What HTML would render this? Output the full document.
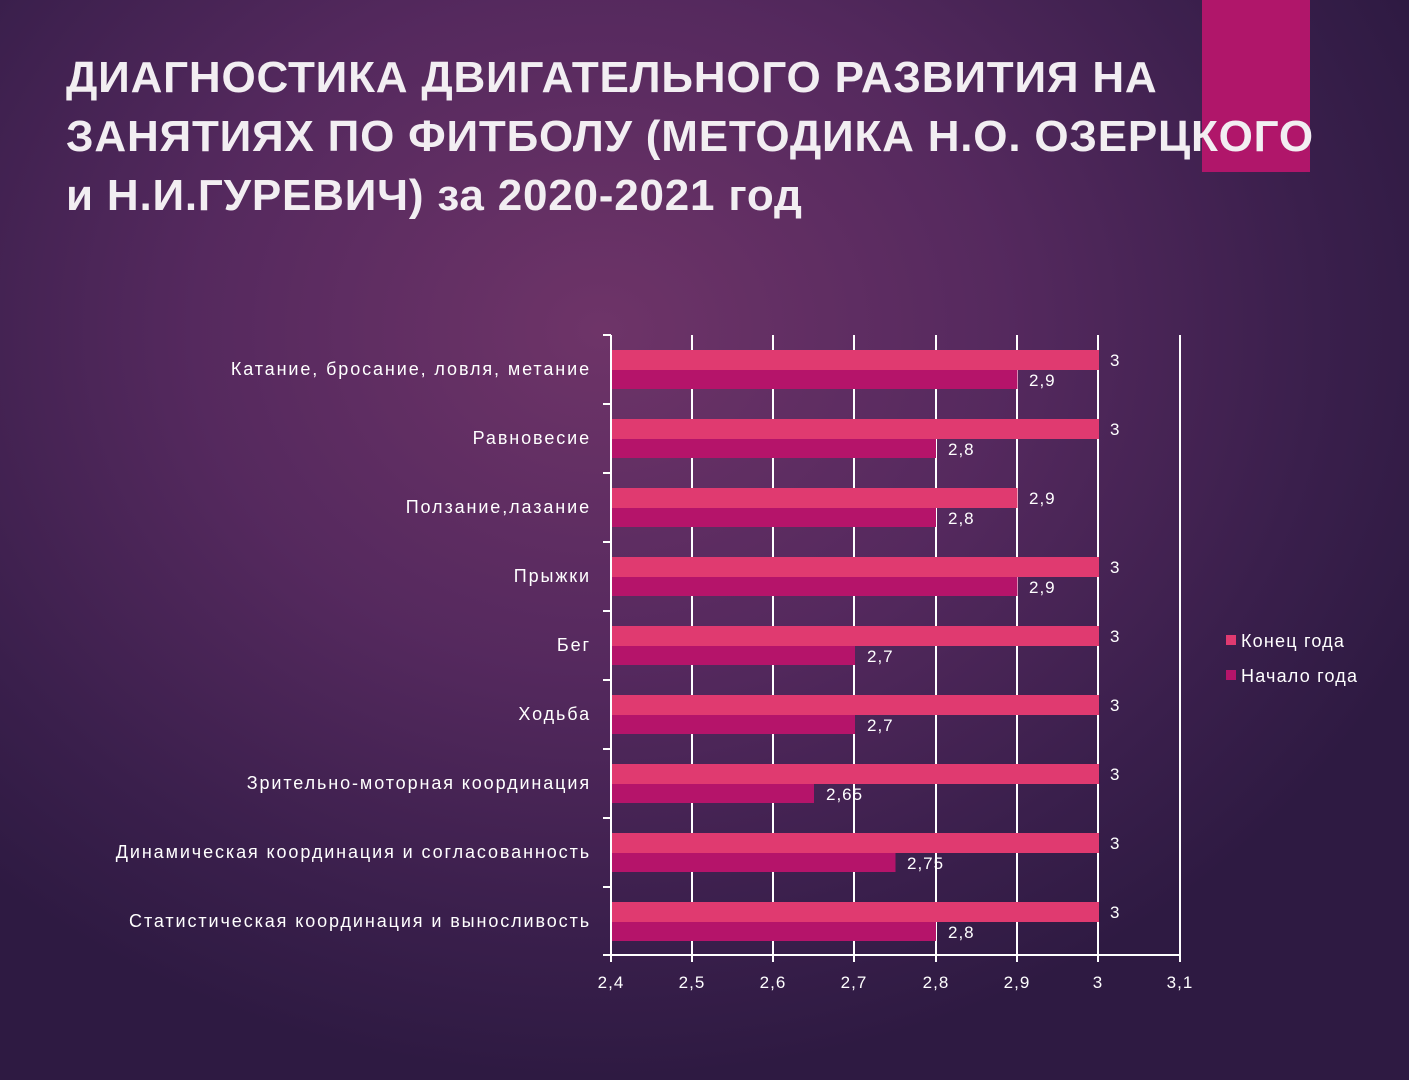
<!DOCTYPE html>
<html><head><meta charset="utf-8"><style>
html,body{margin:0;padding:0}
body{width:1409px;height:1080px;overflow:hidden;background:radial-gradient(ellipse 900px 750px at 600px 330px,#6e3468 0%,#55295e 45%,#3a1f4c 80%,#2e1a42 100%);font-family:"Liberation Sans","DejaVu Sans",sans-serif;position:relative}
h1{position:absolute;left:66px;top:48px;margin:0;color:#f2eef2;font-size:44px;line-height:59px;font-weight:bold;letter-spacing:0.8px;white-space:nowrap}
.rect{position:absolute;left:1202px;top:0;width:108px;height:172px;background:#b0166a}
svg{position:absolute;left:0;top:0}
</style></head><body>
<div class="rect"></div>
<h1>ДИАГНОСТИКА ДВИГАТЕЛЬНОГО РАЗВИТИЯ НА<br>ЗАНЯТИЯХ ПО ФИТБОЛУ (МЕТОДИКА Н.О. ОЗЕРЦКОГО<br>и Н.И.ГУРЕВИЧ) за 2020-2021 год</h1>
<svg width="1409" height="1080" font-family="Liberation Sans, DejaVu Sans, sans-serif" font-size="18" letter-spacing="1.9" fill="#fff">
<g stroke="#fff" stroke-width="2">
<line x1="611" y1="335" x2="611" y2="955"/>
<line x1="611" y1="955" x2="1180" y2="955"/>
<line x1="692" y1="335" x2="692" y2="962"/><line x1="773" y1="335" x2="773" y2="962"/>
<line x1="854" y1="335" x2="854" y2="962"/><line x1="936" y1="335" x2="936" y2="962"/>
<line x1="1017" y1="335" x2="1017" y2="962"/><line x1="1098" y1="335" x2="1098" y2="962"/>
<line x1="1180" y1="335" x2="1180" y2="962"/><line x1="611" y1="955" x2="611" y2="962"/>
<line x1="603" y1="335" x2="611" y2="335"/><line x1="603" y1="404" x2="611" y2="404"/>
<line x1="603" y1="473" x2="611" y2="473"/><line x1="603" y1="542" x2="611" y2="542"/>
<line x1="603" y1="611" x2="611" y2="611"/><line x1="603" y1="680" x2="611" y2="680"/>
<line x1="603" y1="749" x2="611" y2="749"/><line x1="603" y1="818" x2="611" y2="818"/>
<line x1="603" y1="887" x2="611" y2="887"/><line x1="603" y1="955" x2="611" y2="955"/>
</g>
<g>
<rect x="612" y="350" width="487" height="20" fill="#e03a70"/><rect x="612" y="370" width="405.5" height="19" fill="#b5146a"/>
<rect x="612" y="419" width="487" height="20" fill="#e03a70"/><rect x="612" y="439" width="324" height="19" fill="#b5146a"/>
<rect x="612" y="488" width="405.5" height="20" fill="#e03a70"/><rect x="612" y="508" width="324" height="19" fill="#b5146a"/>
<rect x="612" y="557" width="487" height="20" fill="#e03a70"/><rect x="612" y="577" width="405.5" height="19" fill="#b5146a"/>
<rect x="612" y="626" width="487" height="20" fill="#e03a70"/><rect x="612" y="646" width="243" height="19" fill="#b5146a"/>
<rect x="612" y="695" width="487" height="20" fill="#e03a70"/><rect x="612" y="715" width="243" height="19" fill="#b5146a"/>
<rect x="612" y="764" width="487" height="20" fill="#e03a70"/><rect x="612" y="784" width="202" height="19" fill="#b5146a"/>
<rect x="612" y="833" width="487" height="20" fill="#e03a70"/><rect x="612" y="853" width="283.5" height="19" fill="#b5146a"/>
<rect x="612" y="902" width="487" height="20" fill="#e03a70"/><rect x="612" y="922" width="324" height="19" fill="#b5146a"/>
</g>
<g font-size="17" letter-spacing="1">
<text x="1110" y="366">3</text><text x="1029" y="386">2,9</text>
<text x="1110" y="435">3</text><text x="948" y="455">2,8</text>
<text x="1029" y="504">2,9</text><text x="948" y="524">2,8</text>
<text x="1110" y="573">3</text><text x="1029" y="593">2,9</text>
<text x="1110" y="642">3</text><text x="867" y="662">2,7</text>
<text x="1110" y="711">3</text><text x="867" y="731">2,7</text>
<text x="1110" y="780">3</text><text x="826" y="800">2,65</text>
<text x="1110" y="849">3</text><text x="907" y="869">2,75</text>
<text x="1110" y="918">3</text><text x="948" y="938">2,8</text>
</g>
<g text-anchor="middle" font-size="17" letter-spacing="1">
<text x="611" y="988">2,4</text><text x="692" y="988">2,5</text><text x="773" y="988">2,6</text><text x="854" y="988">2,7</text><text x="936" y="988">2,8</text><text x="1017" y="988">2,9</text><text x="1098" y="988">3</text><text x="1180" y="988">3,1</text>
</g>
<g text-anchor="end">
<text x="591" y="375">Катание, бросание, ловля, метание</text>
<text x="591" y="444">Равновесие</text>
<text x="591" y="513">Ползание,лазание</text>
<text x="591" y="582">Прыжки</text>
<text x="591" y="651">Бег</text>
<text x="591" y="720">Ходьба</text>
<text x="591" y="789">Зрительно-моторная координация</text>
<text x="591" y="858">Динамическая координация и согласованность</text>
<text x="591" y="927">Статистическая координация и выносливость</text>
</g>
<rect x="1226" y="635" width="10" height="10" fill="#e03a70"/><text x="1241" y="647" letter-spacing="1.2">Конец года</text>
<rect x="1226" y="670" width="10" height="10" fill="#b5146a"/><text x="1241" y="682" letter-spacing="1.2">Начало года</text>
</svg>
</body></html>
